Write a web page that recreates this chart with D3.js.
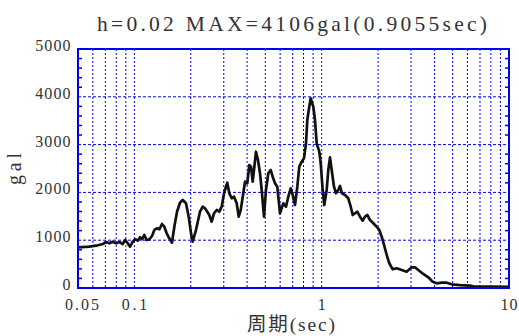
<!DOCTYPE html>
<html>
<head>
<meta charset="utf-8">
<script src="https://cdn.jsdelivr.net/npm/d3@7"></script>
<style>
  html, body { margin: 0; padding: 0; background: #fff; }
  svg { display: block; }
  text { font-family: "Liberation Serif", "Noto Sans CJK JP", serif; fill: #333; }
</style>
</head>
<body>
<div id="chart"></div>
<script>
// response spectrum
const periods = [
  0.05, 0.0574, 0.0624, 0.0678, 0.0705, 0.0735, 0.0766, 0.0798, 0.0831, 0.0866,
  0.0894, 0.0921, 0.0948, 0.098, 0.1011, 0.1042, 0.1072, 0.1098, 0.113, 0.1163,
  0.1201, 0.1242, 0.1278, 0.1316, 0.1359, 0.1404, 0.1444, 0.1488, 0.1536, 0.1588,
  0.1634, 0.1689, 0.1752, 0.1811, 0.1886, 0.195, 0.2006, 0.2048, 0.2132, 0.224,
  0.2316, 0.2382, 0.245, 0.2511, 0.2587, 0.2661, 0.2751, 0.284, 0.2926, 0.301,
  0.3084, 0.3134, 0.3212, 0.3308, 0.3403, 0.3518, 0.3605, 0.3695, 0.3815, 0.3896,
  0.4007, 0.4107, 0.4193, 0.4282, 0.4351, 0.4459, 0.457, 0.4684, 0.4783, 0.492,
  0.5042, 0.5187, 0.5342, 0.5475, 0.5632, 0.5794, 0.599, 0.6237, 0.6448, 0.6633,
  0.6831, 0.7001, 0.7202, 0.7409, 0.7593, 0.7821, 0.8045, 0.8245, 0.8378, 0.8586,
  0.8734, 0.9019, 0.921, 0.9404, 0.971, 0.9879, 1.0124, 1.0326, 1.0635, 1.0846,
  1.1075, 1.1309, 1.1634, 1.1923, 1.2264, 1.2523, 1.2835, 1.3317, 1.3868, 1.4287,
  1.4643, 1.5062, 1.5494, 1.6016, 1.6557, 1.7031, 1.7519, 1.8111, 1.886, 1.9664,
  2.0303, 2.0911, 2.1511, 2.2237, 2.296, 2.394, 2.5147, 2.6737, 2.8429, 3.0227,
  3.1478, 3.2782, 3.4855, 3.7083, 3.9142, 4.1115, 4.3716, 4.6486, 4.9432, 5.4736,
  6.19, 6.448, 7.915, 10
];
const accel = [
  851, 864, 885, 920, 962, 935, 969, 935, 962, 920,
  1004, 935, 864, 969, 1019, 990, 1061, 1019, 1109, 1004,
  1019, 1088, 1213, 1249, 1228, 1339, 1282, 1144, 1040, 948,
  1282, 1596, 1784, 1841, 1772, 1492, 1144, 969, 1213, 1596,
  1701, 1667, 1596, 1527, 1387, 1563, 1632, 1596, 1701, 1981,
  2119, 2203, 1981, 1877, 1910, 1772, 1492, 1632, 1981, 2224,
  2190, 2573, 2538, 2224, 2469, 2851, 2678, 2400, 2050, 1492,
  2050, 2400, 2469, 2328, 2190, 2119, 1563, 1772, 1701, 1910,
  2086, 1946, 1736, 2119, 2538, 2642, 2713, 3027, 3515, 3793,
  3968, 3793, 3515, 3027, 2851, 2609, 2050, 1736, 2050, 2469,
  2734, 2469, 2119, 1981, 2050, 2134, 1981, 1946, 1877, 1701,
  1527, 1563, 1596, 1492, 1408, 1492, 1527, 1423, 1354, 1282,
  1213, 1073, 900, 690, 517, 391, 412, 377, 341, 433,
  433, 377, 293, 224, 132, 98, 111, 111, 77, 60,
  50, 35, 28, 22
];

const xTicks = [0.05, 0.1, 1, 10];
const xTickLabels = ['0.05', '0.1', '1', '10'];
const yTicks = [0, 1000, 2000, 3000, 4000, 5000];
const titleText = 'h=0.02 MAX=4106gal(0.9055sec)';
const xTitle = '周期(sec)';
const yTitle = 'gal';

const W = 519, H = 336;
const plotL = 78, plotR = 509, plotT = 49, plotB = 288;
const blue = '#0000f0';

const svg = d3.select('#chart').append('svg')
  .attr('width', W)
  .attr('height', H);

const x = d3.scaleLog().domain([0.05, 10]).range([plotL, plotR]);
const y = d3.scaleLinear().domain([0, 5000]).range([plotB, plotT]);

// log grid: every 1..9 of each decade, inside the frame
const xGrid = [];
[0.01, 0.1, 1].forEach(dec => {
  for (let i = 1; i <= 9; i++) {
    const v = +(dec * i).toPrecision(3);
    if (v > 0.05 && v < 10) xGrid.push(v);
  }
});

svg.append('g')
  .selectAll('line')
  .data(xGrid)
  .join('line')
  .attr('x1', d => x(d)).attr('x2', d => x(d))
  .attr('y1', plotT).attr('y2', plotB)
  .attr('stroke', blue)
  .attr('stroke-width', 1)
  .attr('stroke-dasharray', '2,2');

svg.append('g')
  .selectAll('line')
  .data(yTicks.filter(d => d > 0 && d < 5000))
  .join('line')
  .attr('x1', plotL).attr('x2', plotR)
  .attr('y1', d => y(d)).attr('y2', d => y(d))
  .attr('stroke', blue)
  .attr('stroke-width', 1)
  .attr('stroke-dasharray', '3,2');

// minor ticks on left and right side, every 200 gal
const minor = d3.range(200, 5000, 200).filter(d => d % 1000 !== 0);
const tickG = svg.append('g').attr('stroke', blue).attr('stroke-width', 1.5);
tickG.selectAll('.tl')
  .data(minor)
  .join('line')
  .attr('class', 'tl')
  .attr('x1', plotL).attr('x2', plotL + 4)
  .attr('y1', d => y(d)).attr('y2', d => y(d));
tickG.selectAll('.tr')
  .data(minor)
  .join('line')
  .attr('class', 'tr')
  .attr('x1', plotR - 4).attr('x2', plotR)
  .attr('y1', d => y(d)).attr('y2', d => y(d));

// spectrum curve
const pts = periods.map((p, i) => [p, accel[i]]);
svg.append('path')
  .datum(pts)
  .attr('fill', 'none')
  .attr('stroke', '#111')
  .attr('stroke-width', 2.7)
  .attr('stroke-linejoin', 'round')
  .attr('d', d3.line().x(d => x(d[0])).y(d => y(d[1])));

// frame
svg.append('rect')
  .attr('x', plotL).attr('y', plotT)
  .attr('width', plotR - plotL).attr('height', plotB - plotT)
  .attr('fill', 'none')
  .attr('stroke', blue)
  .attr('stroke-width', 2);

// tick labels
svg.append('g')
  .selectAll('text')
  .data(yTicks)
  .join('text')
  .attr('x', plotL - 7.5)
  .attr('y', d => y(d) + 2)
  .attr('text-anchor', 'end')
  .attr('font-size', 16)
  .attr('textLength', d => String(d).length * 8.8)
  .attr('lengthAdjust', 'spacing')
  .text(d => d);

svg.append('g')
  .selectAll('text')
  .data(xTicks)
  .join('text')
  .attr('x', (d, i) => x(d) + (i === 0 ? 4 : 0))
  .attr('y', 310)
  .attr('text-anchor', 'middle')
  .attr('font-size', 16)
  .each(function (d, i) {
    const s = xTickLabels[i];
    const t = d3.select(this).text(s);
    if (s.length > 1) t.attr('textLength', s.length * 8.5).attr('lengthAdjust', 'spacing');
  });

// titles
svg.append('text')
  .attr('x', 292).attr('y', 31)
  .attr('text-anchor', 'middle')
  .attr('font-size', 21.5)
  .attr('textLength', 390)
  .attr('lengthAdjust', 'spacing')
  .text(titleText);

svg.append('text')
  .attr('x', 291).attr('y', 331)
  .attr('text-anchor', 'middle')
  .attr('font-size', 19.5)
  .attr('textLength', 88)
  .attr('lengthAdjust', 'spacing')
  .text(xTitle);

svg.append('text')
  .attr('transform', 'translate(21,169) rotate(-90)')
  .attr('text-anchor', 'middle')
  .attr('font-size', 20)
  .attr('textLength', 32)
  .attr('lengthAdjust', 'spacing')
  .text(yTitle);
</script>
</body>
</html>
